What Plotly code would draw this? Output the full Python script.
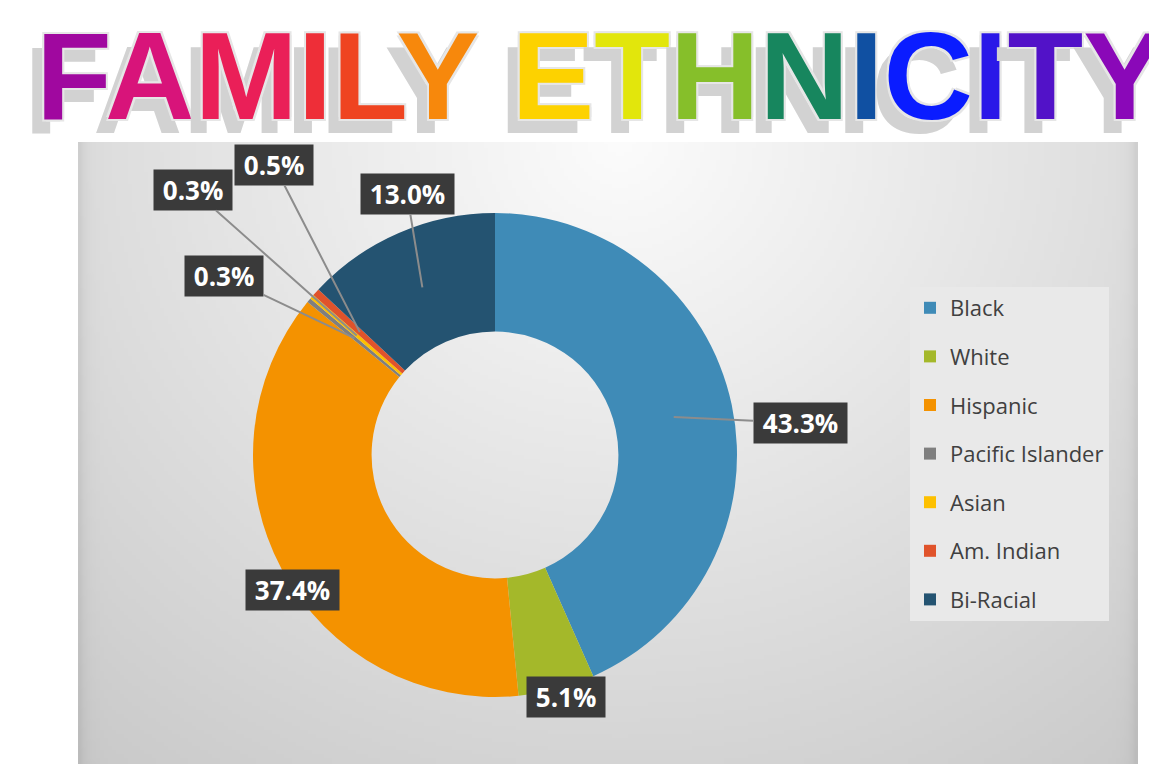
import math, zlib, struct, base64
import numpy as np
import plotly.graph_objects as go

# ---------------- data ----------------
labels = ["Black", "White", "Hispanic", "Pacific Islander", "Asian", "Am. Indian", "Bi-Racial"]
values = [43.3, 5.1, 37.4, 0.3, 0.3, 0.5, 13.0]
colors = ["#3f8bb7", "#a4b82a", "#f49200", "#7f7f7f", "#fdc000", "#e0532b", "#245371"]
title_text = "FAMILY ETHNICITY"
title_colors = ["#a0089f", "#d8147a", "#ea1f58", "#ee2e38", "#ef4420", "#f7880c", " ",
                "#fdd200", "#e2e60c", "#86bf2a", "#17865e", "#1050a2", "#0a1cff",
                "#2a18e8", "#5212c8", "#8a08b8"]

# ---------------- layout constants (page pixels) ----------------
OFF = 8                      # default body margin of the html page
W, H = 1157 - OFF, 764 - OFF
CX, CY, R = 495, 455, 242
HOLE = 0.51
px = lambda x: (x - OFF) / W
py = lambda y: 1 - (y - OFF) / H

# label box centres and whether a leader line is drawn
label_pos = {
    "Black": (800, 423, True),
    "White": (566, 718, False),
    "Hispanic": (245, 611, False),
    "Pacific Islander": (224, 276, True),
    "Asian": (193, 190, True),
    "Am. Indian": (274, 165, True),
    "Bi-Racial": (407, 194, True),
}

# ---------------- background gradient image ----------------
PX0, PY0, PX1, PY1 = 78, 142, 1138, 764
def gradient_png(w, h):
    ys, xs = np.mgrid[0:h, 0:w]
    X = PX0 + xs * ((PX1 - PX0) / (w - 1))
    Y = PY0 + ys * ((PY1 - PY0) / (h - 1))
    r = np.sqrt(((X - 620) / 650) ** 2 + ((Y - 140) / 600) ** 2)
    v = 252 - 38 * r
    edge = np.minimum(X - PX0, PX1 - X)
    v -= 14 * np.exp(-edge / 6)
    v = np.clip(v, 0, 255).astype(np.uint8)
    raw = b"".join(b"\x00" + v[i].tobytes() for i in range(h))
    def chunk(t, d):
        c = struct.pack(">I", len(d)) + t + d
        return c + struct.pack(">I", zlib.crc32(t + d) & 0xffffffff)
    png = b"\x89PNG\r\n\x1a\n" + chunk(b"IHDR", struct.pack(">IIBBBBB", w, h, 8, 0, 0, 0, 0)) \
        + chunk(b"IDAT", zlib.compress(raw, 9)) + chunk(b"IEND", b"")
    return "data:image/png;base64," + base64.b64encode(png).decode()

fig = go.Figure()

fig.add_trace(go.Pie(
    labels=labels, values=values, hole=HOLE, sort=False, direction="clockwise",
    rotation=0, marker=dict(colors=colors, line=dict(width=0)),
    textinfo="none", showlegend=False, hoverinfo="label+percent",
    domain=dict(x=[px(CX - R), px(CX + R)], y=[py(CY + R), py(CY - R)]),
))

# legend entries
for lab, col in zip(labels, colors):
    fig.add_trace(go.Scatter(
        x=[None], y=[None], mode="markers", name=lab, legendgroup=lab,
        marker=dict(symbol="square", size=13, color=col), showlegend=True,
    ))

# ---------------- data labels ----------------
total = sum(values)
cum = 0.0
r_mid = R * (1 + HOLE) / 2
annotations = []
for lab, v in zip(labels, values):
    frac = (cum + v / 2) / total
    cum += v
    ang = 2 * math.pi * frac
    tx = CX + r_mid * math.sin(ang)
    ty = CY - r_mid * math.cos(ang)
    lx, ly, leader = label_pos[lab]
    common = dict(text=f" <b>{v:.1f}%</b> ", bgcolor="#3a3a3a", borderpad=2,
                  font=dict(family="Open Sans", size=26, color="white"),
                  xref="paper", yref="paper")
    if leader:
        annotations.append(dict(x=px(tx), y=py(ty), ax=lx - tx, ay=ly - ty,
                                showarrow=True, arrowhead=0, arrowwidth=2,
                                arrowcolor="#8c8c8c", standoff=0, **common))
    else:
        annotations.append(dict(x=px(lx), y=py(ly), showarrow=False, **common))

# ---------------- title ----------------
title_html = "".join(
    ch if ch == " " else f"<span style='color:{c}'>{ch}</span>"
    for ch, c in zip(title_text, title_colors)
)
annotations.append(dict(
    x=px(601), y=py(76), xref="paper", yref="paper", showarrow=False,
    text=f"<b>{title_html}</b>", xanchor="center", yanchor="middle",
    font=dict(family="Liberation Sans", size=124,
              shadow="2px 2px 0 #e6e6e6, -2px -2px 0 #e6e6e6, 2px -2px 0 #e6e6e6, "
                     "-2px 2px 0 #e6e6e6, -12px 14px 0 #d2d2d2"),
))

fig.update_layout(
    width=W, height=H, margin=dict(l=0, r=0, t=0, b=0),
    paper_bgcolor="white", plot_bgcolor="rgba(0,0,0,0)",
    xaxis=dict(visible=False), yaxis=dict(visible=False),
    images=[dict(source=gradient_png(265, 156), xref="paper", yref="paper",
                 x=px(PX0), y=py(PY0), sizex=(PX1 - PX0) / W, sizey=(PY1 - PY0) / H,
                 sizing="stretch", layer="below", xanchor="left", yanchor="top")],
    legend=dict(x=px(910), y=py(287), xanchor="left", yanchor="top",
                bgcolor="#e9e9e9", font=dict(family="Open Sans", size=22, color="#404040"),
                tracegroupgap=17, itemsizing="constant"),
    annotations=annotations,
)

fig.write_html("out.html")
